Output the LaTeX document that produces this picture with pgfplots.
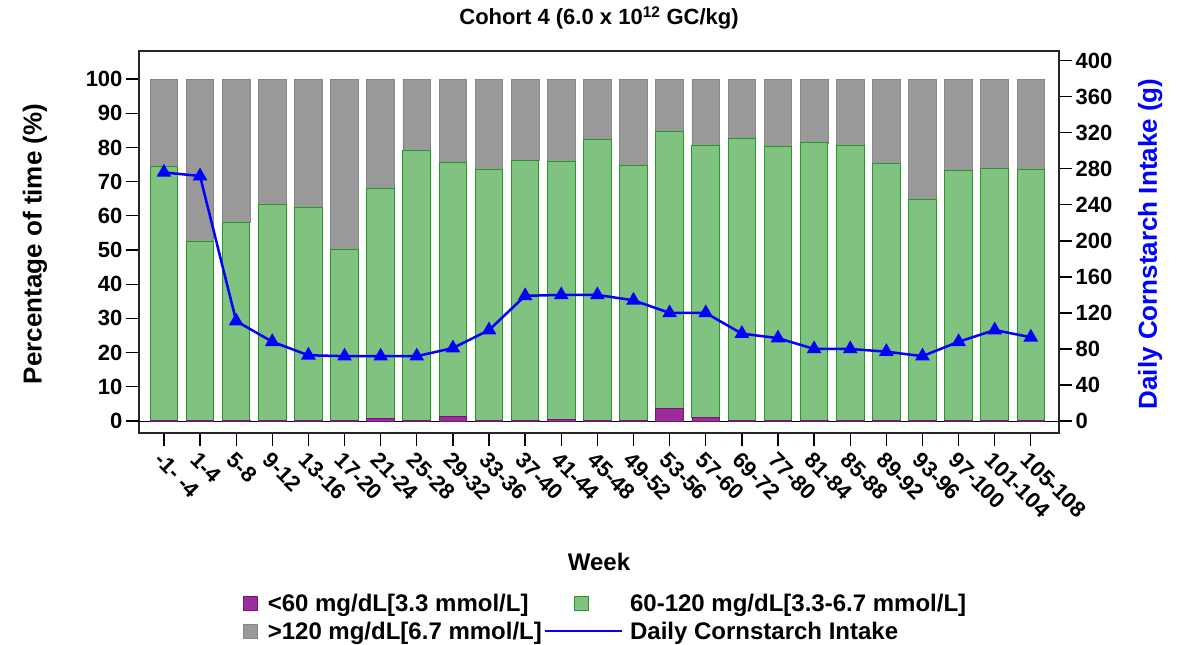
\documentclass[border=0pt]{standalone}
\usepackage{pgfplots}
\pgfplotsset{compat=1.18}
\usepackage{pgfplotstable}
\usepackage{fontspec}
\setmainfont{Liberation Sans}

\definecolor{purpleC}{RGB}{155,45,155}
\definecolor{purpleD}{RGB}{120,20,120}
\definecolor{greenC}{RGB}{128,194,128}
\definecolor{greenD}{RGB}{40,150,40}
\definecolor{grayC}{RGB}{153,153,153}
\definecolor{grayD}{RGB}{135,135,135}

% lo: <60, mid: 60-120, hi: >120 (percent of time); cs: daily cornstarch (g)
\pgfplotstableread{
x  lo   mid   hi    cs
0  0.3  74.1  25.6  276
1  0.1  52.5  47.4  272
2  0.1  58.0  41.9  111
3  0.1  63.1  36.8  88
4  0.2  62.3  37.5  73
5  0.1  50.2  49.7  72
6  0.7  67.2  32.1  72
7  0.3  78.7  21.0  72
8  1.3  74.2  24.5  81
9  0.2  73.3  26.5  101
10 0.3  76.0  23.7  139
11 0.5  75.4  24.1  140
12 0.2  82.0  17.8  140
13 0.2  74.4  25.4  134
14 3.8  81.0  15.2  120
15 1.1  79.6  19.3  120
16 0.2  82.5  17.3  97
17 0.3  80.1  19.6  92
18 0.2  81.1  18.7  80
19 0.2  80.5  19.3  80
20 0.2  75.1  24.7  77
21 0.2  64.6  35.2  72
22 0.2  73.2  26.6  88
23 0.2  73.7  26.1  101
24 0.3  73.3  26.4  93
}\data

\begin{document}
\begin{tikzpicture}
\pgfplotsset{
  common/.style={
    scale only axis, width=920pt, height=382pt,
    xmin=-0.69, xmax=24.78,
    tick align=outside,
    major tick length=13pt,
    every tick/.style={black, line width=1.3pt},
    axis line style={line width=1.3pt, black!85},
    /pgf/number format/assume math mode=true,
    ticklabel style={font=\fontsize{22}{26}\selectfont\bfseries},
  },
}
\begin{axis}[
  common,
  ymin=-3.5, ymax=108.2,
  ybar stacked, bar width=0.765,
  xtick={0,...,24},
  xticklabels={-1- -4,1-4,5-8,9-12,13-16,17-20,21-24,25-28,29-32,33-36,37-40,41-44,45-48,49-52,53-56,57-60,69-72,77-80,81-84,85-88,89-92,93-96,97-100,101-104,105-108},
  xticklabel style={rotate=-45, anchor=north west},
  ytick={0,10,...,100},
  xtick pos=bottom, ytick pos=left,
  extra y ticks={0}, extra y tick labels={},
  extra y tick style={grid=major, major grid style={black, line width=1pt}},
  title={Cohort 4 (6.0 x 10\textsuperscript{12} GC/kg)},
  title style={font=\fontsize{22}{26}\selectfont\bfseries, at={(axis description cs:0.5,1)}, anchor=center, yshift=27pt},
  xlabel={Week},
  xlabel style={font=\fontsize{24}{28}\selectfont\bfseries, at={(axis description cs:0.5,0)}, anchor=center, yshift=-129pt},
  ylabel={Percentage of time (\%)},
  ylabel style={font=\fontsize{26}{30}\selectfont\bfseries, at={(axis description cs:-0.113,0.495)}, anchor=center},
  legend columns=2,
  legend cell align=left,
  legend style={draw=none, fill=none, at={(0.110,-0.41)}, anchor=north west,
    font=\fontsize{24}{28}\selectfont\bfseries, row sep=5pt,
    nodes={inner xsep=2pt},
    /tikz/every even column/.append style={column sep=0pt}},
]
\addplot[fill=purpleC, draw=purpleD, line width=0.8pt,
  legend image code/.code={\draw[fill=purpleC, draw=purpleD, line width=0.8pt] (0pt,-7pt) rectangle (14pt,7pt); \path[draw=none, fill=none] (0pt,0pt) -- (22pt,0pt);}]
  table[x=x, y=lo]{\data};
\addlegendentry{<60 mg/dL[3.3 mmol/L]}
\addplot[fill=greenC, draw=greenD, line width=1pt,
  legend image code/.code={\draw[fill=greenC, draw=greenD, line width=0.8pt] (29pt,-7pt) rectangle (43pt,7pt); \path[draw=none, fill=none] (0pt,0pt) -- (83pt,0pt);}]
  table[x=x, y=mid]{\data};
\addlegendentry{60-120 mg/dL[3.3-6.7 mmol/L]}
\addplot[fill=grayC, draw=grayD, line width=0.8pt,
  legend image code/.code={\draw[fill=grayC, draw=grayD, line width=0.8pt] (0pt,-7pt) rectangle (14pt,7pt); \path[draw=none, fill=none] (0pt,0pt) -- (22pt,0pt);}]
  table[x=x, y=hi]{\data};
\addlegendentry{>120 mg/dL[6.7 mmol/L]}
\addlegendimage{legend image code/.code={\draw[blue, line width=2.5pt] (0pt,0pt) -- (77pt,0pt); \path[draw=none, fill=none] (0pt,0pt) -- (83pt,0pt);}}
\addlegendentry{Daily Cornstarch Intake}
\end{axis}

\begin{axis}[
  common,
  ymin=-13.3, ymax=410.8,
  axis y line*=right, axis x line=none,
  ytick={0,40,...,400},
  ylabel={Daily Cornstarch Intake (g)},
  ylabel style={font=\fontsize{26}{30}\selectfont\bfseries, blue, at={(axis description cs:1.099,0.495)}, anchor=center},
]
\addplot[blue, line width=2.5pt, mark=triangle*, mark size=6pt, mark options={solid}]
  table[x=x, y=cs]{\data};
\end{axis}
\path (-139pt,-212pt) rectangle (1047pt,433pt);
\end{tikzpicture}
\end{document}
